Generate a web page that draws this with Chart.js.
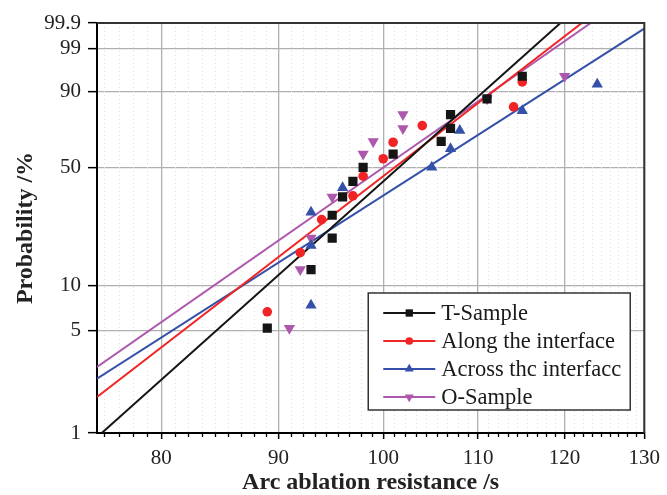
<!DOCTYPE html>
<html>
<head>
<meta charset="utf-8">
<script src="https://cdn.jsdelivr.net/npm/chart.js@4.4.1/dist/chart.umd.min.js"></script>
<style>body{margin:0;background:#fff}</style>
</head>
<body>
<canvas id="weibull" width="667" height="495"></canvas>
<script>
// values
var xTicks = [80, 90, 100, 110, 120, 130];
var yTicks = [1, 5, 10, 50, 90, 99, 99.9];
var seriesNames = ['T-Sample', 'Along the interface', 'Across thc interfacc', 'O-Sample'];

var tSampleX = [89, 93, 95, 95, 96, 97, 98, 101, 106, 107, 107, 111, 115];
var tSampleP = [5.2, 12.7, 20.1, 27.6, 35.1, 42.5, 50.0, 57.5, 64.9, 72.4, 79.9, 87.3, 94.8];
var alongX = [89, 92, 94, 97, 98, 100, 101, 104, 114, 115];
var alongP = [6.7, 16.3, 26.0, 35.6, 45.2, 54.8, 64.4, 74.0, 83.7, 93.3];
var acrossX = [93, 93, 93, 96, 105, 107, 108, 115, 124];
var acrossP = [7.4, 18.1, 28.7, 39.4, 50.0, 60.6, 71.3, 81.9, 92.6];
var oSampleX = [91, 92, 93, 95, 98, 99, 102, 102, 111, 120];
var oSampleP = [5.2, 12.7, 20.1, 35.1, 57.5, 64.9, 72.4, 79.9, 87.3, 94.8];

// fitted lines, end points
var tFitX = [75.36, 119.5];
var tFitP = [1, 99.9];
var alongFitX = [75, 122.1];
var alongFitP = [1.77, 99.9];
var acrossFitX = [75, 130];
var acrossFitP = [2.36, 99.82];
var oFitX = [75, 123.2];
var oFitP = [2.84, 99.9];

var colors = ['#151515', '#f02424', '#3450a8', '#ad58ad'];
var styles = ['rect', 'circle', 'triangle', 'triangle'];
var rotations = [0, 0, 0, 180];
var radii = [6.5, 4.8, 6.5, 6.5];

function weib(p) { return Math.log(-Math.log(1 - p / 100)); }
function toPoints(xs, ps) {
    return xs.map(function(x, i) { return {x: x, y: weib(ps[i])}; });
}

var serif = 'Liberation Serif';

function scatterSet(i, xs, ps) {
    return {
        label: seriesNames[i],
        data: toPoints(xs, ps),
        showLine: false,
        pointStyle: styles[i],
        rotation: rotations[i],
        pointRadius: radii[i],
        pointBackgroundColor: colors[i],
        pointBorderColor: colors[i],
        pointBorderWidth: 0,
        order: i + 1
    };
}
function fitSet(i, xs, ps) {
    return {
        label: seriesNames[i] + ' fit',
        data: toPoints(xs, ps),
        showLine: true,
        borderColor: colors[i],
        borderWidth: 2,
        pointRadius: 0,
        order: 10
    };
}

var minorGrid = {
    id: 'minorGrid',
    beforeDatasetsDraw: function(chart) {
        var ctx = chart.ctx, sx = chart.scales.x, a = chart.chartArea;
        ctx.save();
        for (var i = 0; i < xTicks.length; i++) {
            var lo = xTicks[i] - 10;
            for (var k = 1; k < 9; k++) {
                var v = lo + k * 10 / 9;
                if (v < sx.min) continue;
                var px = Math.round(sx.getPixelForValue(v)) + 0.5;
                ctx.strokeStyle = '#e2e2e2';
                ctx.lineWidth = 1;
                ctx.setLineDash([1, 3]);
                ctx.beginPath();
                ctx.moveTo(px, a.top);
                ctx.lineTo(px, a.bottom);
                ctx.stroke();
                ctx.setLineDash([]);
                ctx.strokeStyle = '#000';
                ctx.lineWidth = 1.3;
                ctx.beginPath();
                ctx.moveTo(px, a.bottom);
                ctx.lineTo(px, a.bottom + 4);
                ctx.stroke();
            }
        }
        ctx.restore();
    },
    afterDraw: function(chart) {
        var ctx = chart.ctx, a = chart.chartArea;
        ctx.save();
        // top and right frame
        ctx.strokeStyle = '#333';
        ctx.lineWidth = 2;
        ctx.beginPath();
        ctx.moveTo(a.left, a.top);
        ctx.lineTo(a.right, a.top);
        ctx.lineTo(a.right, a.bottom);
        ctx.stroke();

        // legend box
        var bx = a.right - 276, by = a.bottom - 140, bw = 262, bh = 117;
        ctx.fillStyle = '#fff';
        ctx.fillRect(bx, by, bw, bh);
        ctx.strokeStyle = '#333';
        ctx.lineWidth = 1.5;
        ctx.strokeRect(bx, by, bw, bh);
        ctx.font = '22.5px "' + serif + '"';
        ctx.textBaseline = 'middle';
        for (var i = 0; i < seriesNames.length; i++) {
            var y = by + 20 + i * 28;
            ctx.strokeStyle = colors[i];
            ctx.lineWidth = 2;
            ctx.beginPath();
            ctx.moveTo(bx + 15, y);
            ctx.lineTo(bx + 67, y);
            ctx.stroke();
            ctx.fillStyle = colors[i];
            Chart.helpers.drawPoint(ctx, {
                pointStyle: styles[i], radius: radii[i] * 0.8,
                rotation: rotations[i], borderWidth: 0
            }, bx + 41, y);
            ctx.fillStyle = '#1a1a1a';
            ctx.fillText(seriesNames[i], bx + 73, y + 1);
        }
        ctx.restore();
    }
};

new Chart(document.getElementById('weibull'), {
    type: 'scatter',
    data: {
        datasets: [
            scatterSet(0, tSampleX, tSampleP),
            scatterSet(1, alongX, alongP),
            scatterSet(2, acrossX, acrossP),
            scatterSet(3, oSampleX, oSampleP),
            fitSet(0, tFitX, tFitP),
            fitSet(1, alongFitX, alongFitP),
            fitSet(2, acrossFitX, acrossFitP),
            fitSet(3, oFitX, oFitP)
        ]
    },
    options: {
        responsive: false,
        animation: false,
        layout: {padding: {top: 23, right: 19, left: 0, bottom: 0}},
        plugins: {legend: {display: false}, tooltip: {enabled: false}},
        scales: {
            x: {
                type: 'logarithmic',
                min: 75,
                max: 130,
                afterBuildTicks: function(s) {
                    s.ticks = xTicks.map(function(v) { return {value: v}; });
                },
                afterFit: function(s) { s.height = 62; },
                grid: {color: '#b0b0b0', lineWidth: 1.3, tickColor: '#000', tickLength: 6, tickWidth: 1.5},
                border: {color: '#000', width: 2},
                ticks: {
                    color: '#222', padding: 7, maxRotation: 0, autoSkip: false,
                    font: {family: serif, size: 21},
                    callback: function(v) { return String(v); }
                },
                title: {
                    display: true, text: 'Arc ablation resistance /s', color: '#222',
                    font: {family: serif, size: 24, weight: 'bold', lineHeight: 1},
                    padding: {top: 0, bottom: 0}
                }
            },
            y: {
                type: 'linear',
                min: weib(1),
                max: weib(99.9),
                afterBuildTicks: function(s) {
                    s.ticks = yTicks.map(function(p) { return {value: weib(p)}; });
                },
                afterFit: function(s) { s.width = 97; },
                grid: {color: '#b0b0b0', lineWidth: 1.3, tickColor: '#000', tickLength: 9, tickWidth: 1.5},
                border: {color: '#000', width: 2},
                ticks: {
                    color: '#222', padding: 7, autoSkip: false,
                    font: {family: serif, size: 21},
                    callback: function(v, i) { return String(yTicks[i]); }
                },
                title: {
                    display: true, text: 'Probability /%', color: '#222',
                    font: {family: serif, size: 24, weight: 'bold', lineHeight: 1},
                    padding: {top: 14, bottom: 0}
                }
            }
        }
    },
    plugins: [minorGrid]
});
</script>
</body>
</html>
